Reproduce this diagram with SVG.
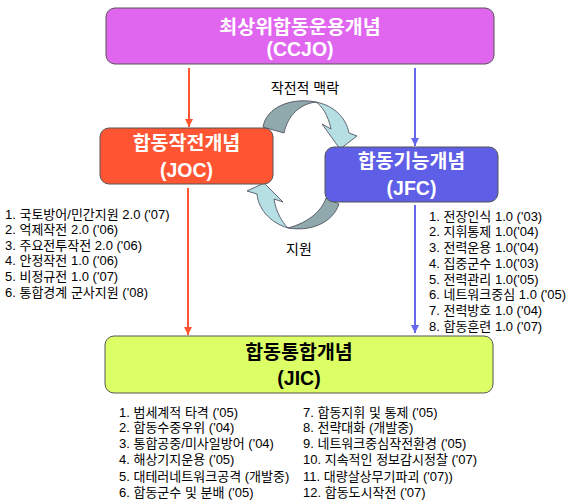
<svg xmlns="http://www.w3.org/2000/svg" width="572" height="500" viewBox="0 0 572 500">
<defs>
<marker id="ar" viewBox="0 0 10 10" refX="10" refY="5" markerWidth="8" markerHeight="8" markerUnits="userSpaceOnUse" orient="auto"><path d="M0,0 L10,5 L0,10 Z" fill="#FF5533"/></marker>
<marker id="ab" viewBox="0 0 10 10" refX="10" refY="5" markerWidth="8" markerHeight="8" markerUnits="userSpaceOnUse" orient="auto"><path d="M0,0 L10,5 L0,10 Z" fill="#6666EE"/></marker>
</defs>
<style>
.box{stroke:#555;stroke-width:1}
.t{font-family:"Liberation Sans","Noto Sans CJK KR",sans-serif;font-weight:bold;font-size:19.5px;text-anchor:middle}
.w{fill:#fff}
.l{font-family:"Liberation Sans","Noto Sans CJK KR",sans-serif;font-size:13px;fill:#000}
.lab{font-family:"Liberation Sans","Noto Sans CJK KR",sans-serif;font-size:14px;fill:#000}
.dk{fill:#8FA9AD;stroke:#445;stroke-width:0.8}
.lt{fill:#B5DFE3;stroke:#445;stroke-width:0.8}
</style>
<rect width="572" height="500" fill="#fff"/>
<g id="connectors">
<line x1="189" y1="68" x2="189" y2="127" stroke="#FF5533" stroke-width="2" marker-end="url(#ar)"/>
<line x1="188" y1="188" x2="188" y2="335" stroke="#FF5533" stroke-width="2" marker-end="url(#ar)"/>
<line x1="415" y1="68" x2="415" y2="146" stroke="#6666EE" stroke-width="2" marker-end="url(#ab)"/>
<line x1="415" y1="205" x2="415" y2="333" stroke="#6666EE" stroke-width="2" marker-end="url(#ab)"/>
<g id="cycle-top">
<path class="dk" d="M263,127 C266,108 290,97 316,102 C300,104 288,115 284,133 Z"/>
<path class="lt" d="M316,102 C335,106 346,118 349,133 L357,136 L340,149 L322,124 L331,129 C328,115 322,106 316,102 Z"/>
</g>
<g id="cycle-bottom">
<path class="dk" d="M288,228 C310,222 322,210 326,198 L339,204 C333,222 312,232 288,228 Z"/>
<path class="lt" d="M288,228 C268,222 258,207 257,194 L247,191 L264,183 L283,202 L274,199 C276,212 282,222 288,228 Z"/>
</g>
<text class="lab" x="305" y="93" text-anchor="middle">작전적 맥락</text>
<text class="lab" x="299" y="254" text-anchor="middle">지원</text>
</g>
<g id="ccjo">
<rect class="box" x="106" y="8" width="388" height="56" rx="9" fill="#E066F0"/>
<text class="t w" x="300" y="34">최상위합동운용개념</text>
<text class="t w" x="300" y="56">(CCJO)</text>
</g>
<g id="joc">
<rect class="box" x="100" y="128" width="173" height="56" rx="9" fill="#FF5533"/>
<text class="t w" x="186.5" y="150">합동작전개념</text>
<text class="t w" x="186.5" y="177">(JOC)</text>
</g>
<g id="jfc">
<rect class="box" x="325" y="147" width="173" height="55" rx="9" fill="#5E5EE6"/>
<text class="t w" x="411.5" y="168">합동기능개념</text>
<text class="t w" x="411.5" y="194.5">(JFC)</text>
</g>
<g id="jic">
<rect class="box" x="105" y="336" width="388" height="57" rx="9" fill="#DDFF66"/>
<text class="t" x="299" y="358.5">합동통합개념</text>
<text class="t" x="299" y="384.5">(JIC)</text>
</g>
<g id="joc-list">
<text class="l" x="5" y="218.5">1. 국토방어/민간지원 2.0 ('07)</text>
<text class="l" x="5" y="234">2. 억제작전 2.0 ('06)</text>
<text class="l" x="5" y="249.7">3. 주요전투작전 2.0 ('06)</text>
<text class="l" x="5" y="265">4. 안정작전 1.0 ('06)</text>
<text class="l" x="5" y="280.7">5. 비정규전 1.0 ('07)</text>
<text class="l" x="5" y="297">6. 통합경계 군사지원 ('08)</text>
</g>
<g id="jfc-list">
<text class="l" x="429" y="220.5">1. 전장인식 1.0 ('03)</text>
<text class="l" x="429" y="236.3">2. 지휘통제 1.0('04)</text>
<text class="l" x="429" y="252">3. 전력운용 1.0('04)</text>
<text class="l" x="429" y="267.8">4. 집중군수 1.0('03)</text>
<text class="l" x="429" y="283.6">5. 전력관리 1.0('05)</text>
<text class="l" x="429" y="299.4">6. 네트워크중심 1.0 ('05)</text>
<text class="l" x="429" y="315.2">7. 전력방호 1.0 ('04)</text>
<text class="l" x="429" y="331">8. 합동훈련 1.0 ('07)</text>
</g>
<g id="jic-list">
<text class="l" x="119" y="416.7">1. 범세계적 타격 ('05)</text>
<text class="l" x="119" y="432.3">2. 합동수중우위 ('04)</text>
<text class="l" x="119" y="448.3">3. 통합공중/미사일방어 ('04)</text>
<text class="l" x="119" y="464">4. 해상기지운용 ('05)</text>
<text class="l" x="119" y="480.7">5. 대테러네트워크공격 (개발중)</text>
<text class="l" x="119" y="496.7">6. 합동군수 및 분배 ('05)</text>
<text class="l" x="303" y="416.7">7. 합동지휘 및 통제 ('05)</text>
<text class="l" x="303" y="432.3">8. 전략대화 (개발중)</text>
<text class="l" x="303" y="448.3">9. 네트워크중심작전환경 ('05)</text>
<text class="l" x="303" y="464">10. 지속적인 정보감시정찰 ('07)</text>
<text class="l" x="303" y="480.7">11. 대량살상무기파괴 ('07))</text>
<text class="l" x="303" y="496.7">12. 합동도시작전 ('07)</text>
</g>
</svg>
